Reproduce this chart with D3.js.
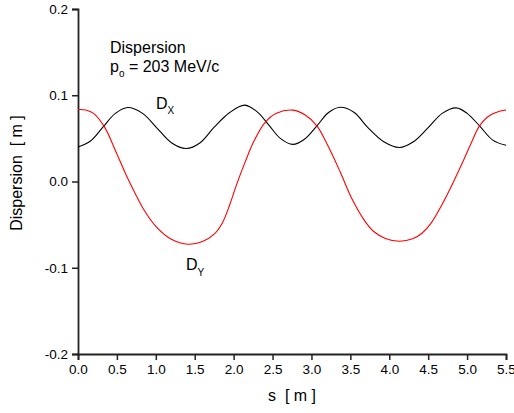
<!DOCTYPE html>
<html lang="en">
  <head>
    <meta charset="UTF-8" />
    <script src="https://d3js.org/d3.v7.min.js"></script>
    <title>Dispersion</title>
    <style>
      body {
        margin: 0;
        background: #fff;
      }
      svg text {
        font-family: "Liberation Sans", Arial, sans-serif;
        fill: #000;
      }
    </style>
  </head>
  <body>
    <svg id="chart" width="514" height="413"></svg>
    <script>
      // values (s in m, dispersion in m)
      const sDx = [0, 0.16, 0.32, 0.48, 0.64, 0.83, 1.015, 1.2, 1.39, 1.57, 1.75, 1.95, 2.14,
        2.3, 2.45, 2.6, 2.76, 2.91, 3.07, 3.22, 3.37, 3.55, 3.72, 3.93, 4.13, 4.31, 4.5,
        4.68, 4.86, 5.0, 5.16, 5.33, 5.5];
      const dx = [0.040, 0.047, 0.063, 0.079, 0.0858, 0.079, 0.062, 0.045, 0.0383, 0.045, 0.063,
        0.080, 0.0885, 0.081, 0.0657, 0.050, 0.043, 0.049, 0.0645, 0.080, 0.086, 0.080, 0.063,
        0.046, 0.0394, 0.046, 0.0624, 0.079, 0.0854, 0.079, 0.0645, 0.048, 0.042];

      const sDy = [0, 0.1, 0.2, 0.342, 0.48, 0.62, 0.73, 0.835, 1.0, 1.2, 1.414, 1.6, 1.75,
        1.855, 1.95, 2.04, 2.15, 2.257, 2.4, 2.55, 2.763, 2.92, 3.07, 3.22, 3.37, 3.52, 3.68,
        3.8, 3.95, 4.13, 4.3, 4.42, 4.54, 4.67, 4.795, 4.966, 5.06, 5.16, 5.3, 5.48, 5.5];
      const dy = [0.0835, 0.083, 0.079, 0.063, 0.036, 0.0073, -0.013, -0.031, -0.052, -0.067,
        -0.0727, -0.0695, -0.061, -0.048, -0.027, -0.003, 0.023, 0.046, 0.068, 0.079, 0.0827,
        0.077, 0.0645, 0.040, 0.011, -0.020, -0.045, -0.058, -0.066, -0.0693, -0.0665, -0.060,
        -0.048, -0.028, -0.006, 0.027, 0.046, 0.0645, 0.077, 0.0827, 0.0827];

      const xTicks = [0, 0.5, 1, 1.5, 2, 2.5, 3, 3.5, 4, 4.5, 5, 5.5];
      const yTicks = [-0.2, -0.1, 0.0, 0.1, 0.2];

      const svg = d3.select("#chart");

      const x = d3.scaleLinear().domain([0, 5.5]).range([78, 506]);
      const y = d3.scaleLinear().domain([-0.2, 0.2]).range([354, 9]);

      const fmt = d => d.toFixed(1);

      // bottom axis
      const gx = svg.append("g").attr("transform", `translate(0,${y(-0.2)})`);
      gx.call(d3.axisBottom(x).tickValues(d3.range(0, 5.51, 0.25)).tickSize(3.5).tickFormat(""));
      gx.call(d3.axisBottom(x).tickValues(xTicks).tickSize(6).tickPadding(4).tickFormat(fmt));
      gx.selectAll("text").attr("font-size", 13.5).style("font-family", "Liberation Sans, Arial");

      // left axis
      const gy = svg.append("g").attr("transform", `translate(${x(0)},0)`);
      gy.call(d3.axisLeft(y).tickValues(d3.range(-0.2, 0.201, 0.05)).tickSize(3.5).tickFormat(""));
      gy.call(d3.axisLeft(y).tickValues(yTicks).tickSize(6).tickPadding(4).tickFormat(fmt));
      gy.selectAll("text").attr("font-size", 13.5).style("font-family", "Liberation Sans, Arial");

      svg.selectAll(".domain").attr("stroke", "#222").attr("stroke-width", 1.8);
      svg.selectAll(".tick line").attr("stroke", "#222").attr("stroke-width", 1.5);

      // curves
      const line = d3.line()
        .x(d => x(d[0]))
        .y(d => y(d[1]))
        .curve(d3.curveCatmullRom.alpha(0.5));

      svg.append("path")
        .datum(sDx.map((s, i) => [s, dx[i]]))
        .attr("fill", "none")
        .attr("stroke", "#000")
        .attr("stroke-width", 1.1)
        .attr("d", line);

      svg.append("path")
        .datum(sDy.map((s, i) => [s, dy[i]]))
        .attr("fill", "none")
        .attr("stroke", "#ff0000")
        .attr("stroke-width", 1.1)
        .attr("d", line);

      // axis titles
      svg.append("text")
        .attr("x", 292).attr("y", 401)
        .attr("text-anchor", "middle")
        .attr("font-size", 16)
        .attr("xml:space", "preserve")
        .text("s  [ m ]");

      svg.append("text")
        .attr("transform", "translate(22,173) rotate(-90)")
        .attr("text-anchor", "middle")
        .attr("font-size", 16)
        .attr("xml:space", "preserve")
        .text("Dispersion  [ m ]");

      // annotation
      svg.append("text")
        .attr("x", 110).attr("y", 53)
        .attr("font-size", 16)
        .text("Dispersion");

      const p = svg.append("text")
        .attr("x", 110).attr("y", 72)
        .attr("font-size", 16)
        .attr("xml:space", "preserve");
      p.append("tspan").text("p");
      p.append("tspan").attr("font-size", 10).attr("dy", 5).text("o");
      p.append("tspan").attr("dy", -5).text(" = 203 MeV/c");

      const lx = svg.append("text").attr("x", 156).attr("y", 109).attr("font-size", 16);
      lx.append("tspan").text("D");
      lx.append("tspan").attr("font-size", 10).attr("dy", 5).text("X");

      const ly = svg.append("text").attr("x", 186).attr("y", 270).attr("font-size", 16);
      ly.append("tspan").text("D");
      ly.append("tspan").attr("font-size", 10).attr("dy", 6).text("Y");
    </script>
  </body>
</html>
